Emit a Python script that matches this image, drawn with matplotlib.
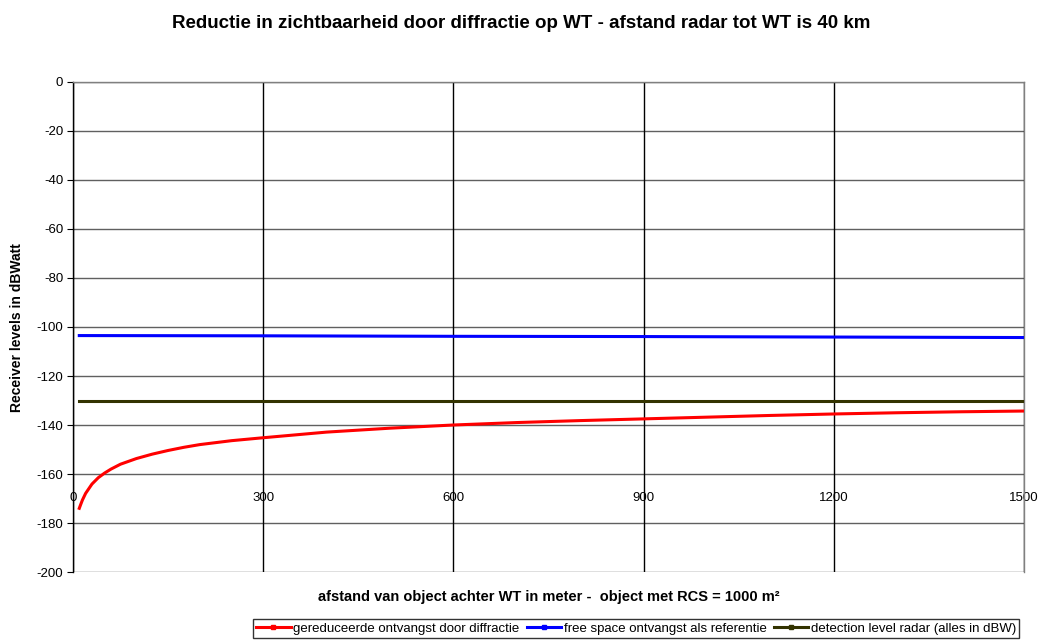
#!/usr/bin/env python

import matplotlib
matplotlib.use('Agg')
from matplotlib import pyplot as plt
from matplotlib.lines import Line2D

plt.rcParams['font.family'] = ['Liberation Sans', 'DejaVu Sans']
plt.rcParams['axes.unicode_minus'] = False

# Data
afstand = [10, 12, 15, 20, 30, 40, 50, 60, 75, 100, 125, 150, 175, 200, 250,
           300, 400, 500, 600, 700, 800, 900, 1000, 1100, 1200, 1300, 1400, 1500]
gereduceerd = [-174.0, -172.6, -170.6, -167.9, -164.1, -161.5, -159.6, -158.0,
               -156.0, -153.7, -151.9, -150.4, -149.1, -148.0, -146.4,
               -145.2, -142.9, -141.3, -140.0, -139.0, -138.2, -137.5,
               -136.8, -136.1, -135.5, -135.0, -134.6, -134.3]

afstand_ref = [10, 300, 600, 900, 1200, 1500]
free_space = [-103.5, -103.6, -103.8, -103.9, -104.1, -104.3]

afstand_det = [10, 1500]
detection = [-130.0, -130.0]

x_ticks = [0, 300, 600, 900, 1200, 1500]
y_ticks = list(range(-200, 1, 20))

labels = ['gereduceerde ontvangst door diffractie',
          'free space ontvangst als referentie',
          'detection level radar (alles in dBW)']
colors = ['#ff0000', '#0000ff', '#333300']

fig = plt.figure(figsize=(10.42, 6.43), dpi=100)
ax = fig.add_axes([0.070, 0.1104, 0.9127, 0.7621])

ax.plot(afstand, gereduceerd, color=colors[0], lw=2.2, zorder=5)
ax.plot(afstand_ref, free_space, color=colors[1], lw=2.2, zorder=5)
ax.plot(afstand_det, detection, color=colors[2], lw=2.2, zorder=5)

ax.set_xlim(0, 1500)
ax.set_ylim(-200, 0)
ax.set_xticks(x_ticks)
ax.set_yticks(y_ticks)

# horizontal grid grey, vertical grid black
for y in y_ticks:
    ax.axhline(y, color='#606060', lw=1.0, zorder=1)
for x in x_ticks:
    ax.axvline(x, color='black', lw=1.0, zorder=1)

for s in ax.spines.values():
    s.set_color('#808080')
    s.set_linewidth(1.0)
ax.spines['left'].set_color('black')

# x axis crosses at -160, labels just below it
ax.spines['bottom'].set_position(('data', -160))
ax.spines['bottom'].set_visible(False)
ax.tick_params(axis='x', length=0, pad=13, labelsize=9.5)
ax.tick_params(axis='y', length=4, direction='out', labelsize=9.5, pad=3)

fig.text(0.5, 0.9635, 'Reductie in zichtbaarheid door diffractie op WT - afstand radar tot WT is 40 km',
         ha='center', va='center', fontsize=13.5, fontweight='bold')
fig.text(0.5265, 0.0715, 'afstand van object achter WT in meter -  object met RCS = 1000 m²',
         ha='center', va='center', fontsize=10.5, fontweight='bold')
fig.text(0.0165, 0.49, 'Receiver levels in dBWatt', rotation=90,
         ha='center', va='center', fontsize=10, fontweight='bold')

handles = [Line2D([0], [0], color=c, lw=2.2, marker='s', markersize=2.5) for c in colors]
leg = fig.legend(handles, labels, loc='upper left', bbox_to_anchor=(0.2428, 0.0366),
                 ncol=3, fontsize=9.5, frameon=True, fancybox=False, borderpad=0.25,
                 handlelength=2.6, handletextpad=0.2, columnspacing=0.55, borderaxespad=0)
leg.get_frame().set_edgecolor('black')
leg.get_frame().set_linewidth(1.0)

plt.savefig('out.png', dpi=100)
plt.close()
